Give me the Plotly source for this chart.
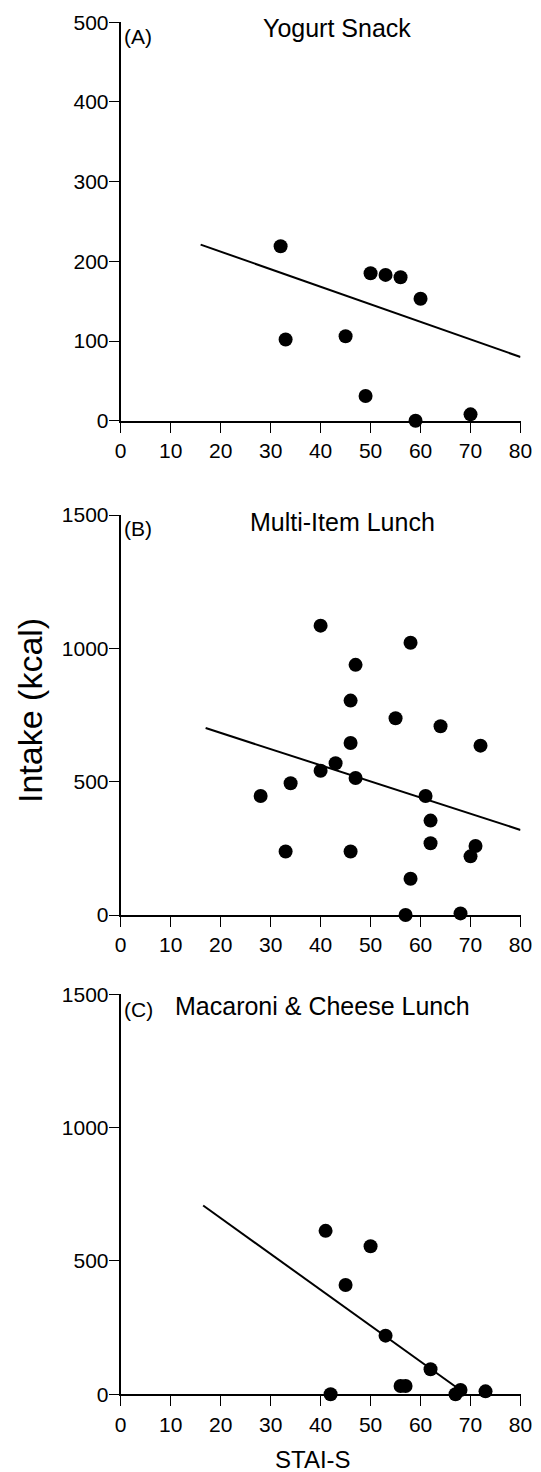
import plotly.graph_objects as go

# ---- data ----
yog_x = [32, 33, 45, 49, 50, 53, 56, 60, 59, 70]
yog_y = [219, 102, 106, 31, 185, 183, 180, 153, 0, 8]
yog_fit_x = [16, 80]
yog_fit_y = [221, 80]

multi_x = [40, 58, 47, 46, 55, 64, 72, 46, 43, 40, 47, 34, 28, 61, 62, 62, 71, 70, 33, 46, 58, 57, 68]
multi_y = [1085, 1021, 938, 804, 738, 708, 635, 645, 569, 541, 514, 494, 446, 446, 354, 269, 259, 220, 238, 238, 136, 0, 6]
multi_fit_x = [17, 80]
multi_fit_y = [701, 319]

mac_x = [41, 50, 45, 53, 62, 56, 57, 42, 67, 68, 73]
mac_y = [613, 555, 410, 220, 94, 31, 31, 0, 0, 16, 11]
mac_fit_x = [16.5, 68]
mac_fit_y = [708, 15]

panel_titles = ["Yogurt Snack", "Multi-Item Lunch", "Macaroni & Cheese Lunch"]
panel_labels = ["(A)", "(B)", "(C)"]
x_ticks = [0, 10, 20, 30, 40, 50, 60, 70, 80]
y_ticks_a = [0, 100, 200, 300, 400, 500]
y_ticks_bc = [0, 500, 1000, 1500]
x_title = "STAI-S"
y_title = "Intake (kcal)"

# ---- layout geometry (pixels) ----
W, H = 541, 1472
FONT = "Liberation Sans, Arial, Helvetica, sans-serif"
x_left, x_right = 120.7, 520.5
panels_px = [(22.3, 420.7), (515.0, 915.0), (994.3, 1394.3)]


def py(p):
    return 1 - p / H


fig = go.Figure()

series = [
    (yog_x, yog_y, yog_fit_x, yog_fit_y),
    (multi_x, multi_y, multi_fit_x, multi_fit_y),
    (mac_x, mac_y, mac_fit_x, mac_fit_y),
]

for i, (sx, sy, fx, fy) in enumerate(series):
    suf = "" if i == 0 else str(i + 1)
    fig.add_trace(go.Scatter(
        x=fx, y=fy, mode="lines", line=dict(color="black", width=2),
        xaxis="x" + suf, yaxis="y" + suf, showlegend=False, hoverinfo="skip"))
    fig.add_trace(go.Scatter(
        x=sx, y=sy, mode="markers",
        marker=dict(color="black", size=14, line=dict(width=0)),
        xaxis="x" + suf, yaxis="y" + suf, showlegend=False, cliponaxis=False))

axis_common = dict(
    showline=True, linecolor="black", linewidth=2,
    ticks="outside", ticklen=10, tickwidth=1.3, tickcolor="black",
    showgrid=False, zeroline=False,
    tickfont=dict(family=FONT, size=21, color="black"),
)

layout = dict(
    width=W, height=H,
    margin=dict(l=0, r=0, t=0, b=0, autoexpand=False),
    paper_bgcolor="white", plot_bgcolor="white",
    font=dict(family=FONT, color="black"),
    showlegend=False,
)

annotations = []
for i, (top, bot) in enumerate(panels_px):
    suf = "" if i == 0 else str(i + 1)
    yt = y_ticks_a if i == 0 else y_ticks_bc
    layout["xaxis" + suf] = dict(
        axis_common, domain=[x_left / W, x_right / W], range=[0, 80],
        tickvals=x_ticks, anchor="y" + suf)
    layout["yaxis" + suf] = dict(
        axis_common, domain=[py(bot), py(top)], range=[yt[0], yt[-1]],
        tickvals=yt, anchor="x" + suf, ticklabelstandoff=-4)

# panel titles and labels
title_pos = [(337, 27.5), (342, 522), (322, 1006)]
label_pos = [(122, 36), (122, 528), (122, 1009)]
for i in range(3):
    tx, ty = title_pos[i]
    annotations.append(dict(
        text=panel_titles[i], x=tx / W, y=py(ty), xref="paper", yref="paper",
        xanchor="center", yanchor="middle", showarrow=False,
        font=dict(family=FONT, size=25, color="black")))
    lx, ly = label_pos[i]
    annotations.append(dict(
        text=panel_labels[i], x=lx / W, y=py(ly), xref="paper", yref="paper",
        xanchor="left", yanchor="middle", showarrow=False,
        font=dict(family=FONT, size=21, color="black")))

annotations.append(dict(
    text=y_title, x=30 / W, y=py(711), xref="paper", yref="paper",
    xanchor="center", yanchor="middle", textangle=-90, showarrow=False,
    font=dict(family=FONT, size=34, color="black")))
annotations.append(dict(
    text=x_title, x=312.5 / W, y=py(1459), xref="paper", yref="paper",
    xanchor="center", yanchor="middle", showarrow=False,
    font=dict(family=FONT, size=24, color="black")))

layout["annotations"] = annotations
fig.update_layout(**layout)

fig.write_html(
    "out.html",
    config={"displayModeBar": False},
    post_script="document.documentElement.style.margin='0';"
                "document.body.style.margin='0';"
                "document.documentElement.style.overflow='hidden';"
                "document.body.style.overflow='hidden';",
)
